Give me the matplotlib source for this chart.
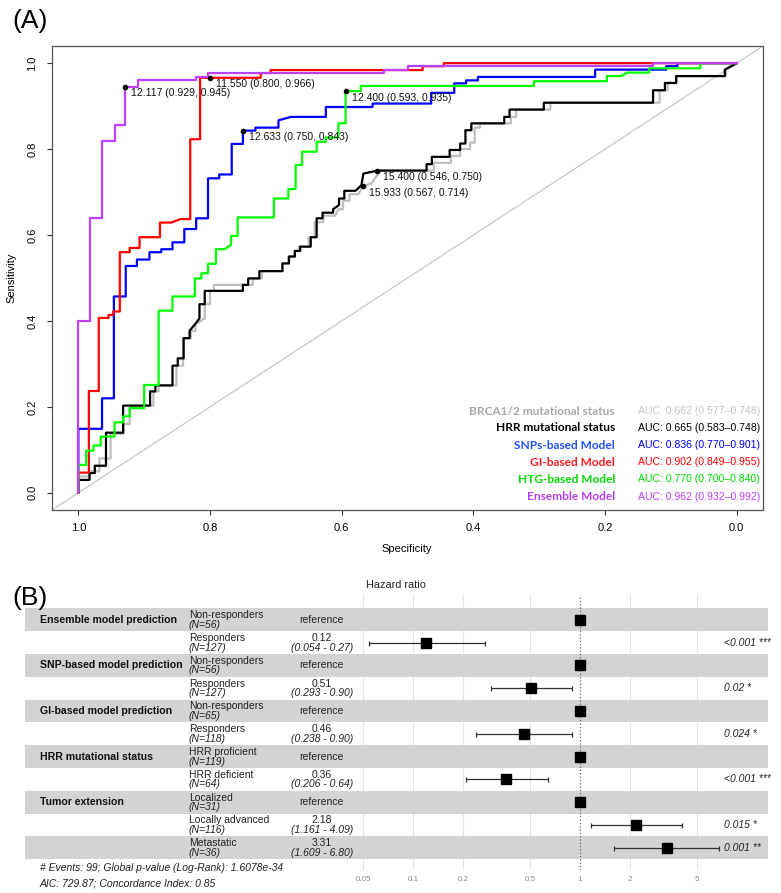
import numpy as np
import matplotlib
matplotlib.use("Agg")
import matplotlib.pyplot as plt

plt.rcParams['font.family'] = ['Liberation Sans', 'DejaVu Sans']

# %% ROC data (specificity, sensitivity corner points)
brca_spec = [1, 1, .983, .983, .968, .968, .951, .951, .931, .931, .922, .922, .886, .886, .878, .878,
             .851, .851, .841, .841, .829, .829, .822, .822, .808, .808, .800, .800, .794, .794, .735, .735,
             .721, .721, .690, .690, .681, .681, .672, .672, .665, .665, .650, .650, .641, .641, .628, .628,
             .610, .605, .598, .598, .588, .588, .575, .567, .555, .548, .540, .460, .460, .434, .434, .420,
             .420, .405, .405, .398, .398, .390, .390, .343, .343, .335, .335, .283, .283, .117, .117, .105,
             .105, .091, .091, .016, .016, 0]
brca_sens = [0, .038, .038, .050, .050, .080, .080, .138, .138, .160, .160, .203, .203, .236, .236, .250,
             .250, .296, .296, .360, .360, .377, .377, .392, .406, .439, .439, .470, .470, .484, .484, .499,
             .499, .516, .516, .534, .534, .550, .550, .563, .563, .573, .573, .595, .595, .630, .630, .645,
             .645, .660, .660, .680, .680, .695, .695, .714, .720, .735, .750, .750, .768, .768, .784, .784,
             .800, .800, .815, .815, .850, .850, .860, .860, .875, .875, .892, .892, .908, .908, .937, .937,
             .954, .954, .970, .970, .985, 1]

hrr_spec = [1, 1, .983, .983, .975, .975, .958, .958, .932, .932, .891, .891, .883, .883, .857, .857,
            .849, .849, .840, .840, .831, .831, .823, .816, .816, .808, .808, .750, .750, .742, .742, .725,
            .725, .690, .690, .680, .680, .671, .671, .663, .663, .647, .647, .638, .638, .629, .629, .613,
            .613, .604, .604, .596, .596, .579, .570, .567, .546, .471, .471, .463, .463, .436, .436, .420,
            .420, .412, .412, .403, .403, .353, .353, .345, .345, .293, .293, .127, .127, .109, .109, .092,
            .092, .018, .018, 0]
hrr_sens = [0, .030, .030, .046, .046, .063, .063, .140, .140, .203, .203, .236, .236, .250, .250, .296,
            .296, .313, .313, .360, .360, .377, .392, .406, .439, .439, .470, .470, .484, .484, .499, .499,
            .516, .516, .534, .534, .550, .550, .563, .563, .573, .573, .595, .595, .639, .639, .652, .652,
            .660, .670, .685, .685, .703, .703, .716, .743, .750, .750, .765, .765, .782, .782, .798, .798,
            .813, .813, .844, .844, .860, .860, .875, .875, .892, .892, .908, .908, .937, .937, .954, .954,
            .970, .970, .985, 1]

snp_spec = [1, 1, .964, .964, .946, .946, .928, .928, .911, .911, .892, .892, .874, .874, .857, .857,
            .839, .839, .821, .821, .803, .803, .786, .786, .767, .767, .750, .750, .731, .731, .696, .696,
            .677, .624, .624, .553, .553, .464, .464, .429, .429, .411, .411, .393, .393, .215, .215, .107,
            .107, .090, .090, 0]
snp_sens = [0, .149, .149, .220, .220, .457, .457, .528, .528, .543, .543, .560, .560, .567, .567, .583,
            .583, .614, .614, .639, .639, .732, .732, .741, .741, .812, .812, .843, .843, .850, .850, .867,
            .875, .875, .898, .898, .906, .906, .931, .931, .953, .953, .960, .960, .968, .968, .985, .985,
            .993, .993, 1, 1]

gi_spec = [1, 1, .984, .984, .969, .969, .954, .954, .947, .947, .937, .937, .922, .922, .907, .907,
           .876, .876, .859, .845, .830, .830, .815, .815, .723, .723, .708, .708, .477, .477, .445, .445, 0]
gi_sens = [0, .047, .047, .237, .237, .407, .407, .414, .414, .422, .422, .560, .560, .570, .570, .595,
           .595, .629, .629, .637, .637, .823, .823, .966, .966, .977, .977, .984, .984, .993, .993, 1, 1]

htg_spec = [1, 1, .988, .988, .977, .977, .966, .966, .945, .945, .932, .932, .922, .922, .900, .900,
            .878, .878, .857, .857, .823, .823, .813, .813, .803, .803, .791, .791, .778, .768, .768, .758,
            .758, .703, .703, .681, .681, .670, .670, .660, .660, .638, .638, .624, .624, .605, .605, .594,
            .594, .571, .571, .308, .308, .197, .197, .175, .167, .133, .133, .055, .055, 0]
htg_sens = [0, .065, .065, .098, .098, .110, .110, .131, .131, .164, .164, .178, .178, .197, .197, .251,
            .251, .424, .424, .457, .457, .499, .499, .511, .511, .533, .533, .567, .567, .577, .598, .598,
            .641, .641, .685, .685, .707, .707, .763, .763, .794, .794, .817, .817, .827, .827, .860, .860,
            .935, .935, .947, .947, .958, .958, .970, .970, .978, .978, .988, .988, 1, 1]

ens_spec = [1, 1, .982, .982, .964, .964, .945, .945, .929, .929, .910, .910, .821, .821, .803, .803,
            .536, .536, .500, .500, .127, .127, 0]
ens_sens = [0, .400, .400, .640, .640, .820, .820, .857, .857, .945, .945, .960, .960, .968, .968, .977,
            .977, .985, .985, .993, .993, 1, 1]

roc_names = ["BRCA1/2 mutational status", "HRR mutational status", "SNPs-based Model",
             "GI-based Model", "HTG-based Model", "Ensemble Model"]
roc_auc = ["AUC: 0.662 (0.577\u20130.748)", "AUC: 0.665 (0.583\u20130.748)", "AUC: 0.836 (0.770\u20130.901)",
           "AUC: 0.902 (0.849\u20130.955)", "AUC: 0.770 (0.700\u20130.840)", "AUC: 0.962 (0.932\u20130.992)"]
roc_spec = [brca_spec, hrr_spec, snp_spec, gi_spec, htg_spec, ens_spec]
roc_sens = [brca_sens, hrr_sens, snp_sens, gi_sens, htg_sens, ens_sens]
line_cols = ['#bebebe', '#000000', '#0000ff', '#ff0000', '#00ff00', '#bf3eff']
name_cols = ['#a8a8a8', '#000000', '#2050ff', '#ff1a1a', '#00dd00', '#b43ef0']
auc_cols = ['#c4c4c4', '#000000', '#0000ff', '#ff0000', '#00dd00', '#bf3eff']

# best thresholds
thr_val = [15.933, 15.400, 12.633, 11.550, 12.400, 12.117]
thr_spec = [0.567, 0.546, 0.750, 0.800, 0.593, 0.929]
thr_sens = [0.714, 0.750, 0.843, 0.966, 0.935, 0.945]

# %% forest plot data
var_names = ["Ensemble model prediction", "", "SNP-based model prediction", "", "GI-based model prediction", "",
             "HRR mutational status", "", "Tumor extension", "", ""]
levels = ["Non-responders", "Responders", "Non-responders", "Responders", "Non-responders", "Responders",
          "HRR proficient", "HRR deficient", "Localized", "Locally advanced", "Metastatic"]
n_obs = [56, 127, 56, 127, 65, 118, 119, 64, 31, 116, 36]
hr = [1, 0.12, 1, 0.51, 1, 0.46, 1, 0.36, 1, 2.18, 3.31]
hr_lo = [np.nan, 0.054, np.nan, 0.293, np.nan, 0.238, np.nan, 0.206, np.nan, 1.161, 1.609]
hr_hi = [np.nan, 0.27, np.nan, 0.90, np.nan, 0.90, np.nan, 0.64, np.nan, 4.09, 6.80]
hr_text = ["reference", "0.12", "reference", "0.51", "reference", "0.46", "reference", "0.36",
           "reference", "2.18", "3.31"]
ci_text = ["", "(0.054 - 0.27)", "", "(0.293 - 0.90)", "", "(0.238 - 0.90)", "", "(0.206 - 0.64)",
           "", "(1.161 - 4.09)", "(1.609 - 6.80)"]
p_text = ["", "<0.001 ***", "", "0.02 *", "", "0.024 *", "", "<0.001 ***", "", "0.015 *", "0.001 **"]
hr_ticks = [0.05, 0.1, 0.2, 0.5, 1, 2, 5]

# %%
W, H = 781, 893
fig = plt.figure(figsize=(W / 100, H / 100), dpi=100)


def box(x0, y0, x1, y1):
    return [x0 / W, 1 - y1 / H, (x1 - x0) / W, (y1 - y0) / H]


# ---------------- panel A
ax = fig.add_axes(box(52, 46, 763, 510))
ax.set_xlim(1.04, -0.04)
ax.set_ylim(-0.04, 1.04)
ax.axline((1, 0), (0, 1), color='#c8c8c8', lw=0.9, zorder=1)
for s, t, c in zip(roc_spec, roc_sens, line_cols):
    ax.plot(s, t, color=c, lw=1.6, zorder=2)
for v, s, t in zip(thr_val, thr_spec, thr_sens):
    ax.plot(s, t, 'o', color='black', ms=3, zorder=3)
    ax.annotate(f"{v:.3f} ({s:.3f}, {t:.3f})", (s, t), xytext=(4.3, -4.7), textcoords='offset points',
                ha='left', va='center', fontsize=7.5, color='#111111', zorder=4)

ticks = [1.0, 0.8, 0.6, 0.4, 0.2, 0.0]
ax.set_xticks(ticks)
ax.set_xticklabels([f"{t:.1f}" for t in ticks])
ax.set_yticks(ticks)
ax.set_yticklabels([f"{t:.1f}" for t in ticks], rotation=90, va='center')
ax.tick_params(direction='out', length=3.6, width=0.8, labelsize=8, color='#333333')
ax.tick_params(axis='x', pad=6)
ax.tick_params(axis='y', pad=7)
for sp in ax.spines.values():
    sp.set_color('#555555')
    sp.set_linewidth(0.9)
ax.set_xlabel("Specificity", fontsize=8)
ax.set_ylabel("Sensitivity", fontsize=8)
ax.xaxis.set_label_coords(0.499, -0.073)
ax.yaxis.set_label_coords(-0.0506, 0.5)

leg_y = [0.190, 0.151, 0.111, 0.071, 0.031, -0.009]
for nm, auc, y, nc, ac in zip(roc_names, roc_auc, leg_y, name_cols, auc_cols):
    ax.text(0.185, y, nm, ha='right', va='center', fontsize=8.6, color=nc,
            family=['Lato', 'DejaVu Sans'], fontweight='bold')
    ax.text(0.150, y, auc, ha='left', va='center', fontsize=7.6, color=ac)

fig.text(30 / W, 1 - 21 / H, "(A)", fontsize=19, ha='center', va='center')
fig.text(30 / W, 1 - 598 / H, "(B)", fontsize=19, ha='center', va='center')

# ---------------- panel B
bx = fig.add_axes(box(25, 595, 768, 870))
decade = 166.7
lo = 10 ** (-1 - (413.3 - 25) / decade)
hi = 10 ** ((768 - 580) / decade)
bx.set_xscale('log')
bx.set_xlim(lo, hi)
bx.set_ylim(10.97, -1.083)
rows = np.arange(len(levels))
for i in rows:
    if i % 2 == 0:
        bx.axhspan(i - 0.5, i + 0.5, color='#d3d3d3', lw=0, zorder=1)
for t in hr_ticks:
    if t != 1:
        bx.axvline(t, color='#e2e2e2', lw=0.8, zorder=0)
bx.axvline(1, color='#666666', lw=0.9, ls=':', zorder=2)

for i in rows:
    if not np.isnan(hr_lo[i]):
        bx.errorbar(hr[i], i, xerr=[[hr[i] - hr_lo[i]], [hr_hi[i] - hr[i]]], fmt='none',
                    ecolor='#333333', elinewidth=0.9, capsize=1.8, capthick=0.9, zorder=3)
    bx.plot(hr[i], i, 's', color='black', ms=7.5, zorder=4)

tr = bx.get_yaxis_transform()
for i in rows:
    if var_names[i]:
        bx.text(0.0202, i, var_names[i], transform=tr, ha='left', va='center', fontsize=7.6,
                fontweight='bold', color='#111111')
    bx.text(0.2207, i - 0.2, levels[i], transform=tr, ha='left', va='center', fontsize=7.5, color='#222222')
    bx.text(0.2207, i + 0.22, f"(N={n_obs[i]})", transform=tr, ha='left', va='center', fontsize=7.5,
            style='italic', color='#222222')
    if ci_text[i]:
        bx.text(0.3993, i - 0.2, hr_text[i], transform=tr, ha='center', va='center', fontsize=7.5, color='#222222')
        bx.text(0.3993, i + 0.22, ci_text[i], transform=tr, ha='center', va='center', fontsize=7.5,
                style='italic', color='#222222')
    else:
        bx.text(0.3993, i, hr_text[i], transform=tr, ha='center', va='center', fontsize=7.5, color='#222222')
    if p_text[i]:
        bx.text(0.9408, i, p_text[i], transform=tr, ha='left', va='center', fontsize=7.5,
                style='italic', color='#222222')

bx.set_xticks(hr_ticks)
bx.set_xticklabels([f"{t:g}" for t in hr_ticks])
bx.xaxis.set_minor_locator(matplotlib.ticker.NullLocator())
bx.set_yticks([])
bx.tick_params(axis='x', length=0, labelsize=5.8, colors='#888888', pad=4)
for sp in bx.spines.values():
    sp.set_visible(False)

fig.text(396 / W, 1 - 585 / H, "Hazard ratio", fontsize=7.8, ha='center', va='center', color='#222222')
fig.text(40 / W, 1 - 868 / H, "# Events: 99; Global p-value (Log-Rank): 1.6078e-34", fontsize=7.5,
         style='italic', ha='left', va='center', color='#222222')
fig.text(40 / W, 1 - 883 / H, "AIC: 729.87; Concordance Index: 0.85", fontsize=7.5,
         style='italic', ha='left', va='center', color='#222222')

fig.savefig("out.png", dpi=100)
